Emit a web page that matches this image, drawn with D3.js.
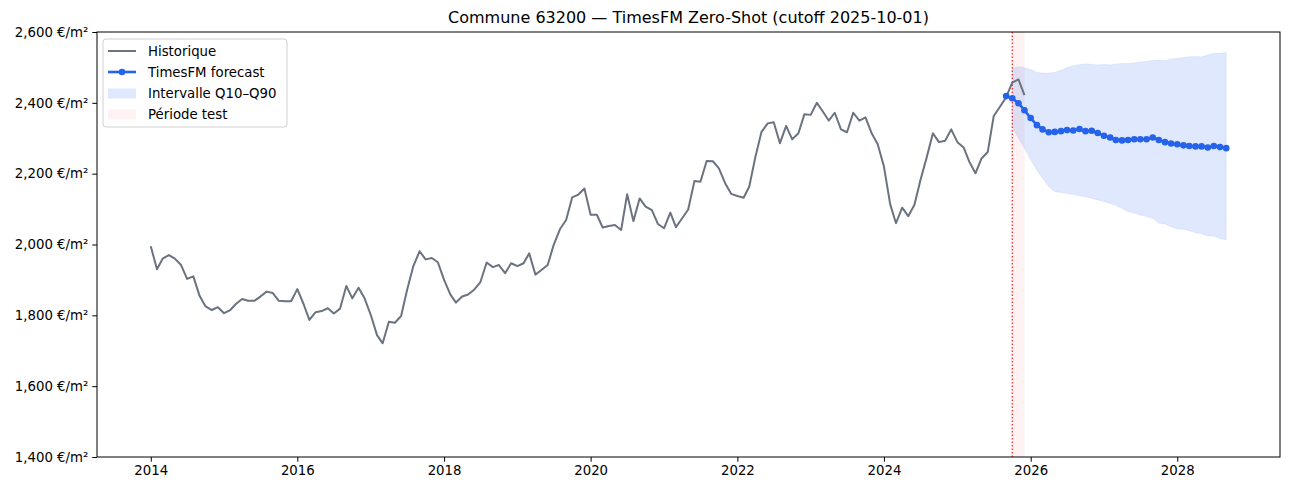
<!DOCTYPE html>
<html>
<head>
<meta charset="utf-8">
<script src="https://cdn.jsdelivr.net/npm/d3@7"></script>
<style>
  body { margin: 0; background: #fff; }
  svg { display: block; font-family: "DejaVu Sans", sans-serif; }
</style>
</head>
<body>
<div id="chart"></div>
<script>
// Monthly history, 2014-01 .. 2025-12 (€/m²)
const histStart = "2014-01-01";
const historique = [
  1995, 1930, 1960, 1970, 1960, 1942, 1903, 1910, 1855, 1825, 1815, 1823,
  1806, 1815, 1832, 1846, 1841, 1841, 1853, 1867, 1863, 1841, 1840, 1840,
  1874, 1832, 1787, 1809, 1812, 1820, 1805, 1819, 1883, 1848, 1878, 1848,
  1801, 1744, 1721, 1782, 1779, 1798, 1872, 1939, 1981, 1958, 1962, 1950,
  1900, 1859, 1836, 1853, 1859, 1873, 1894, 1949, 1936, 1942, 1919, 1947,
  1939, 1947, 1975, 1915, 1928, 1942, 1999, 2043, 2069, 2133, 2141, 2158,
  2084, 2084, 2048, 2052, 2055, 2041, 2142, 2066, 2130, 2107, 2097, 2058,
  2046, 2090, 2049, 2074, 2099, 2179, 2177, 2236, 2235, 2215, 2173, 2143,
  2137, 2132, 2163, 2248, 2318, 2342, 2345, 2286, 2335, 2297, 2314, 2368,
  2366, 2400, 2377, 2350, 2372, 2325, 2317, 2372, 2350, 2359, 2314, 2283,
  2220, 2114, 2060, 2104, 2080, 2112, 2182, 2246, 2314, 2289, 2293, 2325,
  2289, 2274, 2234, 2201, 2243, 2261, 2363, 2389, 2416, 2457, 2466, 2422
];

// TimesFM forecast, 2025-09 .. 2028-09
const fcStart = "2025-09-01";
const forecast = [
  2419, 2413, 2399, 2379, 2357, 2337, 2325, 2317, 2318, 2320, 2323, 2322,
  2326, 2320, 2321, 2315, 2307, 2302, 2295, 2294, 2295, 2297, 2297, 2297,
  2302, 2295, 2289, 2285, 2283, 2280, 2278, 2277, 2277, 2274, 2278, 2275,
  2272
];

// Quantile band, 2025-10 .. 2028-09
const bandStart = "2025-10-01";
const q90 = [
  2497, 2502, 2500, 2494, 2486, 2484, 2484, 2486, 2492, 2500, 2505, 2508,
  2510, 2509, 2507, 2508, 2507, 2510, 2511, 2511, 2513, 2515, 2517, 2520,
  2521, 2519, 2524, 2526, 2528, 2530, 2531, 2530, 2535, 2540, 2540, 2542
];
const q10 = [
  2333, 2300, 2272, 2239, 2210, 2187, 2163, 2149, 2147, 2144, 2141, 2138,
  2135, 2130, 2126, 2121, 2116, 2110, 2102, 2093, 2089, 2083, 2079, 2074,
  2060, 2058, 2050, 2044, 2043, 2039, 2033, 2030, 2024, 2024, 2017, 2013
];

const cutoff = "2025-10-01";
const testEnd = "2025-12-01";
const yTicks = [1400, 1600, 1800, 2000, 2200, 2400, 2600];
const xTickYears = [2014, 2016, 2018, 2020, 2022, 2024, 2026, 2028];

const parse = d3.timeParse("%Y-%m-%d");
const monthly = (start, values) =>
  values.map((v, i) => ({ date: d3.timeMonth.offset(parse(start), i), value: v }));

const hist = monthly(histStart, historique);
const fc = monthly(fcStart, forecast);
const band = q10.map((v, i) => ({
  date: d3.timeMonth.offset(parse(bandStart), i), lo: v, hi: q90[i]
}));

const W = 1289, H = 490;
const margin = { top: 32, right: 9, bottom: 33, left: 97 };
const width = W - margin.left - margin.right;
const height = H - margin.top - margin.bottom;

const svg = d3.select("#chart").append("svg")
  .attr("width", W).attr("height", H);

// x domain with matplotlib-like 5% padding
const x0 = hist[0].date, x1 = fc[fc.length - 1].date;
const pad = (x1 - x0) * 0.05;
const x = d3.scaleTime()
  .domain([new Date(+x0 - pad), new Date(+x1 + pad)])
  .range([0, width]);
const y = d3.scaleLinear().domain([1400, 2600]).range([height, 0]);

const g = svg.append("g").attr("transform", `translate(${margin.left},${margin.top})`);

g.append("clipPath").attr("id", "clip")
  .append("rect").attr("width", width).attr("height", height);

const plot = g.append("g").attr("clip-path", "url(#clip)");

// Test period shading
plot.append("rect")
  .attr("x", x(parse(cutoff)))
  .attr("y", 0)
  .attr("width", x(parse(testEnd)) - x(parse(cutoff)))
  .attr("height", height)
  .attr("fill", "#ef4444")
  .attr("fill-opacity", 0.07);

// Quantile band
plot.append("path")
  .datum(band)
  .attr("fill", "#2563eb")
  .attr("fill-opacity", 0.15)
  .attr("stroke", "#2563eb")
  .attr("stroke-opacity", 0.08)
  .attr("d", d3.area().x(d => x(d.date)).y0(d => y(d.lo)).y1(d => y(d.hi)));

// Cutoff line
plot.append("line")
  .attr("x1", x(parse(cutoff))).attr("x2", x(parse(cutoff)))
  .attr("y1", 0).attr("y2", height)
  .attr("stroke", "red")
  .attr("stroke-width", 1.1)
  .attr("stroke-dasharray", "1.5,2");

// Historical line
plot.append("path")
  .datum(hist)
  .attr("fill", "none")
  .attr("stroke", "#6b7280")
  .attr("stroke-width", 2)
  .attr("stroke-linejoin", "round")
  .attr("d", d3.line().x(d => x(d.date)).y(d => y(d.value)));

// Forecast line + markers
plot.append("path")
  .datum(fc)
  .attr("fill", "none")
  .attr("stroke", "#2563eb")
  .attr("stroke-width", 2.6)
  .attr("d", d3.line().x(d => x(d.date)).y(d => y(d.value)));

plot.selectAll(".dot")
  .data(fc)
  .enter().append("circle")
  .attr("class", "dot")
  .attr("cx", d => x(d.date))
  .attr("cy", d => y(d.value))
  .attr("r", 3.3)
  .attr("fill", "#2563eb");

// Axes
const xAxis = d3.axisBottom(x)
  .tickValues(xTickYears.map(yr => new Date(yr, 0, 1)))
  .tickFormat(d3.timeFormat("%Y"))
  .tickSize(4.7).tickPadding(4);
const yAxis = d3.axisLeft(y)
  .tickValues(yTicks)
  .tickFormat(d => d3.format(",")(d) + " €/m²")
  .tickSize(4.7).tickPadding(4);

const gx = g.append("g").attr("transform", `translate(0,${height})`).call(xAxis);
const gy = g.append("g").call(yAxis);
[gx, gy].forEach(a => {
  a.select(".domain").remove();
  a.selectAll("line").attr("stroke", "#000").attr("stroke-width", 1);
  a.selectAll("text").attr("fill", "#000")
    .style("font-size", "13.3px").style("font-family", "DejaVu Sans");
});

// Frame
g.append("rect")
  .attr("width", width).attr("height", height)
  .attr("fill", "none").attr("stroke", "#000").attr("stroke-width", 1);

// Title
svg.append("text")
  .attr("x", margin.left + width / 2)
  .attr("y", 23)
  .attr("text-anchor", "middle")
  .style("font-size", "16px")
  .text("Commune 63200 — TimesFM Zero-Shot (cutoff 2025-10-01)");

// Legend
const legend = g.append("g").attr("transform", "translate(6,7)");
legend.append("rect")
  .attr("width", 184).attr("height", 88)
  .attr("rx", 3)
  .attr("fill", "#fff").attr("fill-opacity", 0.8)
  .attr("stroke", "#d0d0d0");

const items = [
  { label: "Historique", type: "line", color: "#6b7280", w: 2 },
  { label: "TimesFM forecast", type: "marker", color: "#2563eb", w: 2.6 },
  { label: "Intervalle Q10–Q90", type: "patch", color: "#2563eb", op: 0.15 },
  { label: "Période test", type: "patch", color: "#ef4444", op: 0.07 }
];
items.forEach((it, i) => {
  const row = legend.append("g").attr("transform", `translate(0,${12 + i * 21})`);
  if (it.type === "patch") {
    row.append("rect")
      .attr("x", 5).attr("y", -4.5).attr("width", 28).attr("height", 10)
      .attr("fill", it.color).attr("fill-opacity", it.op);
  } else {
    row.append("line")
      .attr("x1", 5).attr("x2", 33).attr("y1", 0).attr("y2", 0)
      .attr("stroke", it.color).attr("stroke-width", it.w);
    if (it.type === "marker") {
      row.append("circle").attr("cx", 19).attr("cy", 0).attr("r", 3.3).attr("fill", it.color);
    }
  }
  row.append("text")
    .attr("x", 45).attr("y", 0)
    .attr("dominant-baseline", "central")
    .style("font-size", "13.3px")
    .text(it.label);
});
</script>
</body>
</html>
